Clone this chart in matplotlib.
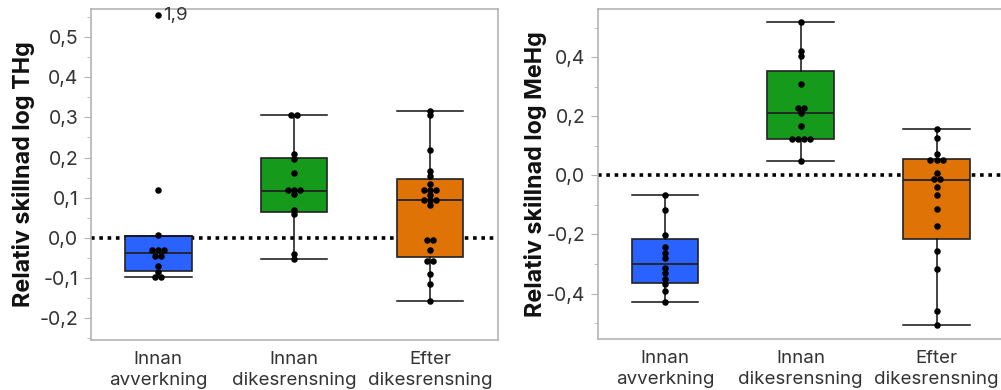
import matplotlib
matplotlib.use("Agg")
import matplotlib.pyplot as plt
from matplotlib.ticker import FuncFormatter, MultipleLocator

plt.rcParams["font.family"] = ["Inter", "DejaVu Sans"]

CATEGORIES = ["Innan\navverkning", "Innan\ndikesrensning", "Efter\ndikesrensning"]
COLORS = ["#2962ff", "#159a1c", "#e07306"]
INK = "#333333"
FRAME = "#b4b4b4"

# THg - data points per group (1.9 is outside the plot range, shown at the top edge)
thg_points = [
    [1.9, 0.118, 0.006, -0.032, -0.032, -0.032, -0.045, -0.045, -0.07, -0.085, -0.098, -0.098],
    [0.305, 0.305, 0.21, 0.197, 0.161, 0.12, 0.12, 0.12, 0.108, 0.07, 0.058, -0.04, -0.053],
    [0.316, 0.305, 0.22, 0.166, 0.155, 0.133, 0.12, 0.12, 0.12, 0.107, 0.095, 0.095, 0.095,
     0.082, -0.007, -0.007, -0.032, -0.059, -0.059, -0.09, -0.117, -0.159],
]
thg_q1 = [-0.084, 0.063, -0.049]
thg_med = [-0.039, 0.117, 0.094]
thg_q3 = [0.005, 0.199, 0.146]
thg_lo = [-0.099, -0.053, -0.159]
thg_hi = [0.005, 0.306, 0.315]

# MeHg
mehg_points = [
    [-0.065, -0.118, -0.203, -0.243, -0.262, -0.279, -0.315, -0.332, -0.35, -0.368, -0.39, -0.427],
    [0.518, 0.422, 0.405, 0.308, 0.23, 0.23, 0.212, 0.167, 0.125, 0.125, 0.125, 0.125, 0.048],
    [0.157, 0.126, 0.073, 0.053, 0.053, 0.053, 0.007, -0.013, -0.013, -0.04, -0.066, -0.113,
     -0.171, -0.255, -0.318, -0.458, -0.507],
]
mehg_q1 = [-0.365, 0.123, -0.214]
mehg_med = [-0.299, 0.213, -0.014]
mehg_q3 = [-0.214, 0.355, 0.056]
mehg_lo = [-0.428, 0.048, -0.507]
mehg_hi = [-0.065, 0.518, 0.157]


def comma(v, _):
    return f"{v:.1f}".replace(".", ",")


def swarm_x(i, vals, step=0.045):
    # spread identical values side by side
    xs = []
    for k, v in enumerate(vals):
        same = [j for j, w in enumerate(vals) if w == v]
        n = len(same)
        pos = same.index(k)
        xs.append(i + (pos - (n - 1) / 2) * step)
    return xs


def panel(ax, points, q1, med, q3, lo, hi, ylim, ylabel, major, minor, ycap=None):
    ax.axhline(0, color="black", linestyle=(0, (1, 1.3)), linewidth=2.6, zorder=1)
    stats = []
    for k in range(3):
        stats.append(dict(med=med[k], q1=q1[k], q3=q3[k], whislo=lo[k], whishi=hi[k]))
    bp = ax.bxp(stats, positions=range(3), widths=0.49, capwidths=0.49,
                showfliers=False, patch_artist=True, zorder=2,
                boxprops=dict(edgecolor="#222222", linewidth=1.2),
                medianprops=dict(color="#222222", linewidth=1.3),
                whiskerprops=dict(color="#111111", linewidth=1.1),
                capprops=dict(color="#111111", linewidth=1.1))
    for patch, c in zip(bp["boxes"], COLORS):
        patch.set_facecolor(c)

    for i, vals in enumerate(points):
        ys = [min(v, ycap) if ycap is not None else v for v in vals]
        ax.scatter(swarm_x(i, vals), ys, s=22, color="black", zorder=5, linewidths=0)
        for v, y in zip(vals, ys):
            if y != v:
                ax.text(i + 0.035, y, comma(v, None), fontsize=13.5, color=INK,
                        va="center", ha="left")

    ax.set_xlim(-0.495, 2.5)
    ax.set_ylim(*ylim)
    ax.set_xticks(range(3))
    ax.set_xticklabels(CATEGORIES, fontsize=13.5, color=INK, linespacing=1.3)
    ax.tick_params(axis="x", length=0, pad=8)
    ax.yaxis.set_major_locator(MultipleLocator(major))
    ax.yaxis.set_minor_locator(MultipleLocator(minor))
    ax.yaxis.set_major_formatter(FuncFormatter(comma))
    ax.tick_params(axis="y", which="major", length=5, color=FRAME, labelsize=14,
                   labelcolor=INK, pad=4)
    ax.tick_params(axis="y", which="minor", length=3, color=FRAME)
    for s in ax.spines.values():
        s.set_color(FRAME)
        s.set_linewidth(1.2)
    ax.set_ylabel(ylabel, fontsize=16.8, fontweight="bold", color="#111111")


fig = plt.figure(figsize=(10.01, 3.9), dpi=100)
ax1 = fig.add_axes([0.0909, 0.128, 0.4066, 0.849])
ax2 = fig.add_axes([0.5971, 0.130, 0.4064, 0.848])

panel(ax1, thg_points, thg_q1, thg_med, thg_q3, thg_lo, thg_hi,
      (-0.256, 0.571), "Relativ skillnad log THg", 0.1, 0.05, ycap=0.555)
panel(ax2, mehg_points, mehg_q1, mehg_med, mehg_q3, mehg_lo, mehg_hi,
      (-0.555, 0.565), "Relativ skillnad log MeHg", 0.2, 0.1)
ax2.spines["right"].set_visible(False)

ax1.yaxis.set_label_coords(-0.138, 0.5)
ax2.yaxis.set_label_coords(-0.125, 0.5)

fig.savefig("out.png", dpi=100)
